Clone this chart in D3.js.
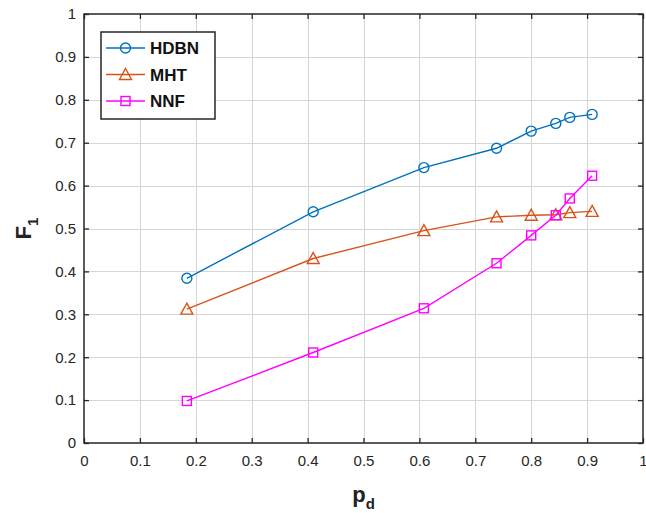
<!DOCTYPE html>
<html>
<head>
<meta charset="utf-8">
<script src="https://cdn.jsdelivr.net/npm/d3@7.9.0/dist/d3.min.js"></script>
<style>
  body { margin: 0; background: #fff; }
  svg { display: block; font-family: 'Liberation Sans', Arial, sans-serif; }
</style>
</head>
<body>
<div id="chart"></div>
<script>
const pd = [0.184, 0.41, 0.608, 0.738, 0.800, 0.844, 0.869, 0.909];
const hdbn = [0.384, 0.539, 0.642, 0.687, 0.727, 0.745, 0.759, 0.766];
const mht = [0.312, 0.430, 0.495, 0.527, 0.531, 0.532, 0.537, 0.540];
const nnf = [0.098, 0.211, 0.314, 0.419, 0.484, 0.531, 0.570, 0.623];
const ticks = d3.range(0, 1.01, 0.1).map((d) => +d.toFixed(1));

const series = [
  { name: 'HDBN', values: hdbn, color: '#0072BD', symbol: 'circle' },
  { name: 'MHT', values: mht, color: '#D95319', symbol: 'triangle' },
  { name: 'NNF', values: nnf, color: '#FF00FF', symbol: 'square' },
];

const width = 646;
const height = 513;
const margin = { top: 14, right: 3, bottom: 70, left: 84 };

const usableArea = {
  top: margin.top,
  right: width - margin.right,
  bottom: height - margin.bottom,
  left: margin.left,
};

const svg = d3.select('#chart')
  .append('svg')
  .attr('width', width)
  .attr('height', height);

const xScale = d3.scaleLinear().domain([0, 1]).range([usableArea.left, usableArea.right]);
const yScale = d3.scaleLinear().domain([0, 1]).range([usableArea.bottom, usableArea.top]);

const fmt = (d) => (d === 0 || d === 1 ? String(d) : d.toFixed(1));

// grid
const grid = svg.append('g').attr('stroke', '#d6d6d6').attr('stroke-width', 1);
grid.selectAll('.gx').data(ticks.slice(1, -1)).join('line')
  .attr('x1', (d) => Math.round(xScale(d)) + 0.5).attr('x2', (d) => Math.round(xScale(d)) + 0.5)
  .attr('y1', usableArea.top).attr('y2', usableArea.bottom);
grid.selectAll('.gy').data(ticks.slice(1, -1)).join('line')
  .attr('y1', (d) => Math.round(yScale(d)) + 0.5).attr('y2', (d) => Math.round(yScale(d)) + 0.5)
  .attr('x1', usableArea.left).attr('x2', usableArea.right);

// axes
const axisColor = '#262626';
function styleAxis(g) {
  g.select('.domain').remove();
  g.selectAll('.tick line').attr('stroke', axisColor).attr('stroke-width', 1.3);
  g.selectAll('.tick text').attr('fill', '#262626').style('font-size', '15px');
}

svg.append('g')
  .attr('transform', `translate(0, ${usableArea.bottom})`)
  .call(d3.axisBottom(xScale).tickValues(ticks).tickFormat(fmt).tickSize(-5).tickPadding(12))
  .call(styleAxis);

svg.append('g')
  .attr('transform', `translate(${usableArea.left}, 0)`)
  .call(d3.axisLeft(yScale).tickValues(ticks).tickFormat(fmt).tickSize(-5).tickPadding(8))
  .call(styleAxis);

svg.append('g')
  .attr('transform', `translate(0, ${usableArea.top})`)
  .call(d3.axisTop(xScale).tickValues(ticks).tickFormat('').tickSize(-5))
  .call(styleAxis);

svg.append('g')
  .attr('transform', `translate(${usableArea.right}, 0)`)
  .call(d3.axisRight(yScale).tickValues(ticks).tickFormat('').tickSize(-5))
  .call(styleAxis);

svg.append('rect')
  .attr('x', usableArea.left).attr('y', usableArea.top)
  .attr('width', usableArea.right - usableArea.left)
  .attr('height', usableArea.bottom - usableArea.top)
  .attr('fill', 'none').attr('stroke', axisColor).attr('stroke-width', 1.5);

// axis labels
const xl = svg.append('text')
  .attr('x', (usableArea.left + usableArea.right) / 2)
  .attr('y', 502)
  .attr('text-anchor', 'middle')
  .style('font-size', '22px').style('font-weight', 'bold').attr('fill', '#222');
xl.append('tspan').text('p');
xl.append('tspan').attr('dy', 7).style('font-size', '15px').text('d');

const yl = svg.append('text')
  .attr('transform', `translate(31, ${(usableArea.top + usableArea.bottom) / 2}) rotate(-90)`)
  .attr('text-anchor', 'middle')
  .style('font-size', '22px').style('font-weight', 'bold').attr('fill', '#222');
yl.append('tspan').text('F');
yl.append('tspan').attr('dy', 7).style('font-size', '15px').text('1');

// markers
function drawMarker(sel, symbol, color) {
  if (symbol === 'circle') {
    sel.append('circle').attr('r', 5);
  } else if (symbol === 'triangle') {
    sel.append('path').attr('d', 'M0,-6L6,5L-6,5Z');
  } else {
    sel.append('rect').attr('x', -4.5).attr('y', -4.5).attr('width', 9).attr('height', 9);
  }
  sel.selectAll('*').attr('fill', 'none').attr('stroke', color).attr('stroke-width', 1.4);
}

const line = d3.line().x((d) => xScale(d[0])).y((d) => yScale(d[1]));

for (const s of series) {
  const pts = pd.map((x, i) => [x, s.values[i]]);
  svg.append('path')
    .datum(pts)
    .attr('d', line)
    .attr('fill', 'none')
    .attr('stroke', s.color)
    .attr('stroke-width', 1.4);

  svg.append('g').selectAll('g').data(pts).join('g')
    .attr('transform', (d) => `translate(${xScale(d[0])}, ${yScale(d[1])})`)
    .each(function () { drawMarker(d3.select(this), s.symbol, s.color); });
}

// legend
const legend = svg.append('g');
legend.append('rect')
  .attr('x', 101).attr('y', 32).attr('width', 114).attr('height', 87)
  .attr('fill', '#fff').attr('stroke', axisColor).attr('stroke-width', 1.5);

series.forEach((s, i) => {
  const y = 48 + i * 26.5;
  legend.append('line')
    .attr('x1', 106).attr('x2', 145).attr('y1', y).attr('y2', y)
    .attr('stroke', s.color).attr('stroke-width', 1.4);
  const m = legend.append('g').attr('transform', `translate(125.5, ${y})`);
  drawMarker(m, s.symbol, s.color);
  legend.append('text')
    .attr('x', 150).attr('y', y + 6)
    .style('font-size', '17px').style('font-weight', 'bold').attr('fill', '#111')
    .text(s.name);
});
</script>
</body>
</html>
